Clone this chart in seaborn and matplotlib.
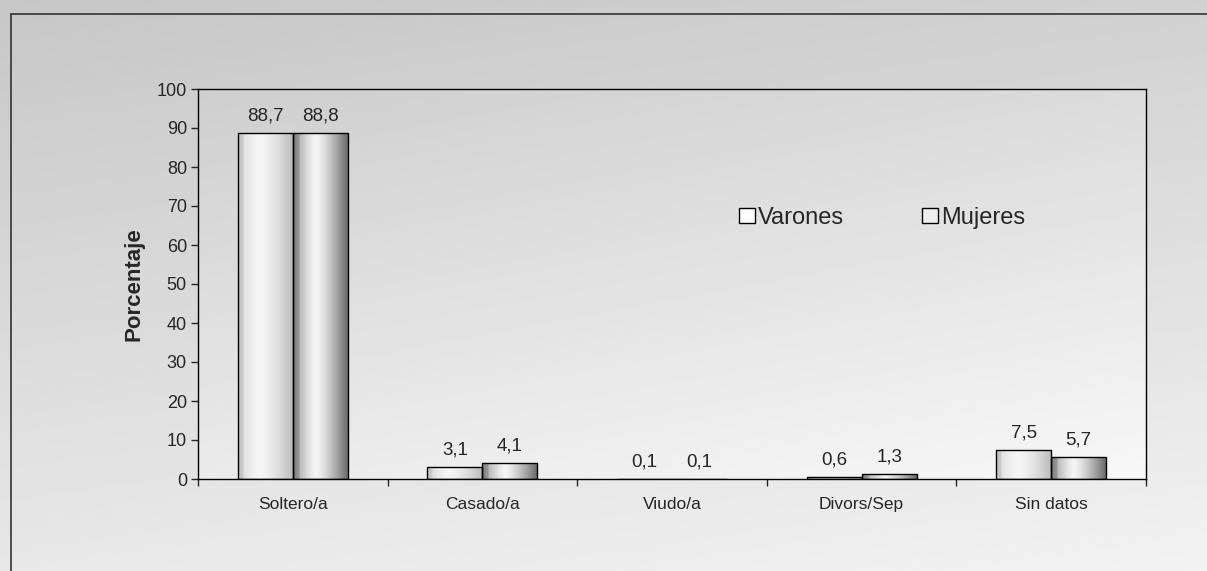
import numpy as np
import pandas as pd
import matplotlib.pyplot as plt
import seaborn as sns
from matplotlib.lines import Line2D
from matplotlib.patches import Rectangle

# Data
categorias = ['Soltero/a', 'Casado/a', 'Viudo/a', 'Divors/Sep', 'Sin datos']
varones = [88.7, 3.1, 0.1, 0.6, 7.5]
mujeres = [88.8, 4.1, 0.1, 1.3, 5.7]
series = ['Varones', 'Mujeres']
yticks = list(range(0, 101, 10))

df = pd.DataFrame({
    'categoria': categorias * 2,
    'valor': varones + mujeres,
    'sexo': ['Varones'] * len(categorias) + ['Mujeres'] * len(categorias),
})

sns.set_style('white')
plt.rcParams['font.family'] = ['Liberation Sans', 'DejaVu Sans']

fig = plt.figure(figsize=(12.07, 5.71), dpi=100)

# Background with a soft gray gradient (like the scanned halftone)
bg = fig.add_axes([0, 0, 1, 1], zorder=-10)
gy, gx = np.mgrid[0:1:200j, 0:1:400j]
grad = 0.78 + 0.13 * gy + 0.04 * gx
bg.imshow(grad, cmap='gray', vmin=0, vmax=1, aspect='auto', extent=[0, 1, 0, 1])
bg.set_axis_off()
fig.add_artist(Line2D([11 / 1207, 11 / 1207], [0, 1 - 14 / 571], color='#333333', lw=1.2))
fig.add_artist(Line2D([11 / 1207, 1], [1 - 14 / 571, 1 - 14 / 571], color='#333333', lw=1.2))

ax = fig.add_axes([198 / 1207, 1 - 479 / 571, (1146 - 198) / 1207, (479 - 89) / 571])
sns.barplot(data=df, x='categoria', y='valor', hue='sexo', order=categorias,
            hue_order=series, width=0.58, palette=['white', 'white'],
            edgecolor='black', linewidth=1.0, ax=ax, legend=False, zorder=3)

ax.set_facecolor('none')
# gradient for the plot area
pg = 0.81 + 0.11 * gy + 0.05 * gx
ax.imshow(pg, cmap='gray', vmin=0, vmax=1, aspect='auto',
          extent=[-0.5, 4.5, 0, 100], zorder=0)

# cylinder-like shading on the bars
t = np.linspace(0, 1, 100)
prof_v = 0.96 - 0.22 * np.abs(t - 0.4) ** 1.5 * 2.2 - 0.08 * (t < 0.1)
prof_m = 0.96 - 0.55 * np.abs(t - 0.42) ** 1.3 * 2.0 - 0.12 * (t < 0.12)
bars = [p for p in ax.patches if isinstance(p, Rectangle) and p.get_height() > 0]
n = len(categorias)
for i, p in enumerate(bars):
    x, w, h = p.get_x(), p.get_width(), p.get_height()
    prof = prof_v if i < n else prof_m
    im = ax.imshow(np.clip(prof, 0, 1)[None, :], cmap='gray', vmin=0, vmax=1,
                   aspect='auto', extent=[x, x + w, 0, h], zorder=2.5)
    im.set_clip_path(p)
    p.set_facecolor('none')

# value labels with comma decimals
vals = varones + mujeres
for p, v in zip(bars, vals):
    ax.annotate(f'{v:.1f}'.replace('.', ','),
                (p.get_x() + p.get_width() / 2, p.get_height()),
                xytext=(0, 6), textcoords='offset points',
                ha='center', va='bottom', fontsize=13.5)

ax.set_xlim(-0.5, 4.5)
ax.set_ylim(0, 100)
ax.set_yticks(yticks)
ax.set_yticklabels([str(v) for v in yticks], fontsize=13)
ax.set_xticks(range(n))
ax.set_xticklabels(categorias, fontsize=12.5)
ax.set_xticks([i + 0.5 for i in range(-1, n)], minor=True)
ax.tick_params(axis='x', which='major', length=0, pad=13)
ax.tick_params(axis='x', which='minor', length=5, width=1, direction='out', bottom=True)
ax.tick_params(axis='y', length=5, width=1, direction='out', left=True, pad=3)
ax.set_xlabel('')
ax.set_ylabel('Porcentaje', fontsize=16, fontweight='bold', labelpad=9)
for s in ax.spines.values():
    s.set_color('black')
    s.set_linewidth(1.0)

handles = [Rectangle((0, 0), 1, 1, facecolor='white', edgecolor='black', lw=1),
           Rectangle((0, 0), 1, 1, facecolor='#eeeeee', edgecolor='black', lw=1)]
ax.legend(handles, series, ncol=2, frameon=False, fontsize=17,
          loc='center', bbox_to_anchor=(0.722, 0.67), handlelength=0.65,
          handleheight=0.65, handletextpad=0.15, columnspacing=3.3)

fig.savefig('out.png', dpi=100)
